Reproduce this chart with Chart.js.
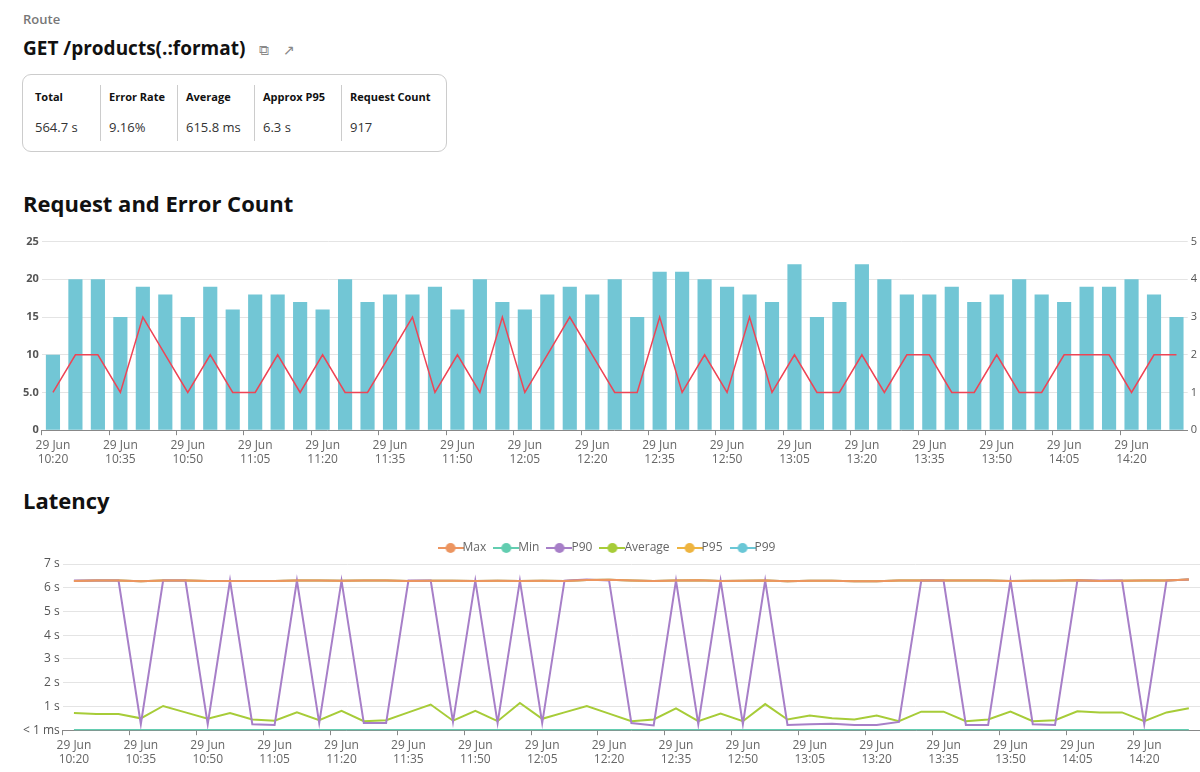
<!DOCTYPE html>
<html>
<head>
<meta charset="utf-8">
<script src="https://cdn.jsdelivr.net/npm/chart.js@4.4.0/dist/chart.umd.min.js"></script>
<style>
  body { margin: 0; font-family: "Open Sans", sans-serif; color: #111; background: #fff; width: 1200px; }
  .route { position: absolute; left: 23px; top: 10px; font-size: 13px; font-weight: 600; color: #777; }
  .title { position: absolute; left: 23px; top: 35px; font-size: 19px; font-weight: 700; }
  .title span { color: #888; font-weight: 400; font-size: 14px; margin-left: 14px; }
  .stats { position: absolute; left: 22px; top: 74px; height: 76px; border: 1px solid #ccc; border-radius: 9px; display: flex; padding: 0 4px; }
  .stat { padding: 14px 8px 0 8px; border-left: 1px solid #ccc; margin: 10px 0; padding-top: 4px; }
  .stat:first-child { border-left: none; }
  .stat b { display: block; font-size: 11px; font-weight: 700; margin-bottom: 14px; }
  .stat div { font-size: 13px; color: #333; }
  h2 { position: absolute; left: 23px; margin: 0; font-size: 22px; font-weight: 700; }
  .box { position: absolute; left: 20px; width: 1180px; }
</style>
</head>
<body>
<div class="route">Route</div>
<div class="title">GET /products(.:format)<span>⧉</span><span>↗</span></div>
<div class="stats">
  <div class="stat" style="width:57px"><b>Total</b><div>564.7 s</div></div>
  <div class="stat" style="width:60px"><b>Error Rate</b><div>9.16%</div></div>
  <div class="stat" style="width:60px"><b>Average</b><div>615.8 ms</div></div>
  <div class="stat" style="width:70px"><b>Approx P95</b><div>6.3 s</div></div>
  <div class="stat" style="width:84px"><b>Request Count</b><div>917</div></div>
</div>
<h2 style="top:188px">Request and Error Count</h2>
<div class="box" style="top:232px;height:238px"><canvas id="reqChart"></canvas></div>
<h2 style="top:485px">Latency</h2>
<div class="box" style="top:528px;height:242px"><canvas id="latChart"></canvas></div>
<script>
const requests = [10,20,20,15,19,18,15,19,16,18,18,17,16,20,17,18,18,19,16,20,17,16,18,19,18,20,15,21,21,20,19,18,17,22,15,17,22,20,18,18,19,17,18,20,18,17,19,19,20,18,15];
const errors = [1,2,2,1,3,2,1,2,1,1,2,1,2,1,1,2,3,1,2,1,3,1,2,3,2,1,1,3,1,2,1,3,1,2,1,1,2,1,2,2,1,1,2,1,1,2,2,2,1,2,2];
const p90 = [6.3,6.3,6.3,0.25,6.3,6.3,0.25,6.3,0.25,0.22,6.3,0.3,6.3,0.3,0.3,6.3,6.3,0.35,6.3,0.3,6.3,0.3,6.3,6.35,6.3,0.3,0.2,6.3,0.25,6.3,0.25,6.3,0.22,0.25,0.27,0.22,0.22,0.35,6.3,6.3,0.22,0.22,6.3,0.25,0.22,6.3,6.3,6.3,0.25,6.3,6.35];
const average = [0.72,0.68,0.68,0.5,1.02,0.75,0.48,0.72,0.45,0.4,0.75,0.42,0.82,0.38,0.42,0.75,1.08,0.4,0.82,0.38,1.15,0.48,0.75,1.02,0.7,0.38,0.45,0.92,0.38,0.7,0.38,1.1,0.45,0.62,0.5,0.45,0.62,0.38,0.78,0.78,0.38,0.45,0.78,0.38,0.42,0.8,0.75,0.75,0.38,0.75,0.92];
const maxLat = [6.28,6.3,6.3,6.27,6.3,6.3,6.28,6.28,6.28,6.28,6.31,6.3,6.29,6.3,6.3,6.28,6.29,6.29,6.28,6.29,6.28,6.29,6.28,6.33,6.34,6.3,6.28,6.3,6.32,6.28,6.29,6.3,6.27,6.29,6.29,6.27,6.27,6.3,6.3,6.3,6.31,6.3,6.28,6.29,6.29,6.32,6.28,6.29,6.3,6.3,6.35];
const p99 = maxLat.slice();
const p95 = maxLat.slice();
const minLat = new Array(51).fill(0.01);
const dayLabel = '29 Jun';
const timeLabels = ['10:20','10:25','10:30','10:35','10:40','10:45','10:50','10:55','11:00','11:05','11:10','11:15','11:20','11:25','11:30','11:35','11:40','11:45','11:50','11:55','12:00','12:05','12:10','12:15','12:20','12:25','12:30','12:35','12:40','12:45','12:50','12:55','13:00','13:05','13:10','13:15','13:20','13:25','13:30','13:35','13:40','13:45','13:50','13:55','14:00','14:05','14:10','14:15','14:20','14:25','14:30'];

Chart.defaults.font.family = '"Open Sans", sans-serif';
Chart.defaults.color = '#666';

const xAxis = {
  offset: true,
  grid: {
    drawOnChartArea: false, tickLength: 5, offset: true,
    color: c => (c.index % 3 === 0 ? '#888' : 'transparent')
  },
  border: { color: '#888' },
  ticks: {
    autoSkip: false, maxRotation: 0, font: { size: 12 }, color: '#666',
    callback: function (v, i) { return i % 3 === 0 ? [dayLabel, timeLabels[i]] : ''; }
  }
};

new Chart(document.getElementById('reqChart'), {
  data: {
    labels: timeLabels,
    datasets: [
      { type: 'line', label: 'Errors', data: errors, yAxisID: 'y1', borderColor: '#ee4455', borderWidth: 1.5, pointRadius: 0, tension: 0 },
      { type: 'bar', label: 'Requests', data: requests, yAxisID: 'y', backgroundColor: '#72c6d5', categoryPercentage: 0.7, barPercentage: 0.9 }
    ]
  },
  options: {
    responsive: true, maintainAspectRatio: false, animation: false,
    layout: { padding: { right: 0 } },
    plugins: { legend: { display: false }, tooltip: { enabled: false } },
    scales: {
      x: xAxis,
      y: {
        min: 0, max: 25,
        ticks: { stepSize: 5, font: { size: 11, weight: 'bold' }, color: '#555', callback: v => (v === 5 ? '5.0' : v) },
        grid: { color: '#e4e4e4', drawTicks: false }, border: { display: false }
      },
      y1: {
        position: 'right', min: 0, max: 5,
        ticks: { stepSize: 1, font: { size: 11 }, color: '#555' },
        grid: { drawOnChartArea: false, drawTicks: false }, border: { display: false }
      }
    }
  }
});

function legendIcon(color) {
  const c = document.createElement('canvas');
  c.width = 26; c.height = 12;
  const g = c.getContext('2d');
  g.strokeStyle = color; g.lineWidth = 2;
  g.beginPath(); g.moveTo(0, 6); g.lineTo(26, 6); g.stroke();
  g.fillStyle = color;
  g.beginPath(); g.arc(13, 6, 5, 0, Math.PI * 2); g.fill();
  return c;
}

const latSeries = [
  ['P99', p99, '#6ac7d6', 3],
  ['P95', p95, '#eeb440', 2],
  ['P90', p90, '#a77fc8', 1],
  ['Average', average, '#a7cc38', 1],
  ['Max', maxLat, '#ec9560', 0],
  ['Min', minLat, '#62cdb0', 0]
];

new Chart(document.getElementById('latChart'), {
  type: 'line',
  data: {
    labels: timeLabels,
    datasets: latSeries.map(s => ({
      label: s[0], data: s[1], borderColor: s[2], backgroundColor: s[2],
      borderWidth: 2, pointRadius: 0, tension: 0, order: s[3],
      pointStyle: legendIcon(s[2])
    }))
  },
  options: {
    responsive: true, maintainAspectRatio: false, animation: false,
    plugins: {
      tooltip: { enabled: false },
      legend: {
        labels: { usePointStyle: true, font: { size: 12 }, color: '#666', padding: 14 }
      }
    },
    scales: {
      x: Object.assign({}, xAxis, { offset: true }),
      y: {
        min: 0, max: 7,
        ticks: { stepSize: 1, font: { size: 12 }, color: '#555', callback: v => (v === 0 ? '< 1 ms' : v + ' s') },
        grid: { color: '#e4e4e4', drawTicks: false }, border: { display: false }
      }
    }
  }
});
</script>
</body>
</html>
